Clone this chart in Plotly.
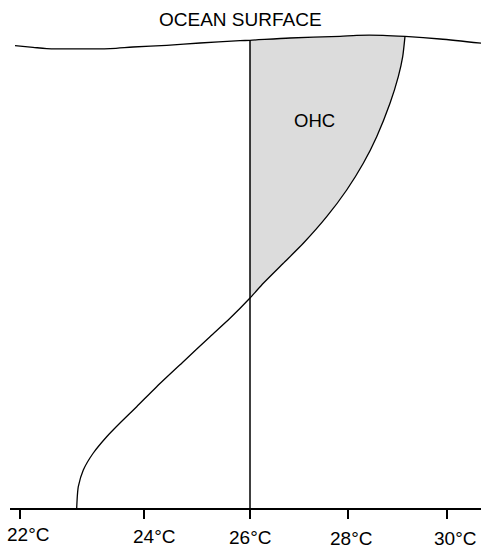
import plotly.graph_objects as go

# Temperature profile (schematic position units: x across, y = depth downward)
profile_x = [76.7, 77.4, 78.3, 83.3, 93.3, 106.7, 120.0, 136.7, 156.7, 183.3, 210.0, 230.0,
             250.0, 263.3, 283.3, 303.3, 326.7, 346.7, 363.3, 376.7, 390.0, 398.3, 402.7, 405.0]
profile_y = [508.0, 495.0, 486.7, 470.0, 453.0, 436.7, 423.0, 406.7, 386.7, 361.7, 336.7, 318.3,
             298.0, 283.3, 263.3, 243.3, 216.7, 190.0, 163.3, 136.7, 103.3, 76.7, 56.7, 36.4]

# Ocean surface line
surface_x = [15.0, 33.0, 46.7, 110.0, 133.0, 166.7, 200.0, 240.0, 250.0, 290.0, 340.0, 356.7,
             383.0, 405.0, 440.0, 481.0]
surface_y = [45.7, 47.3, 48.6, 48.6, 47.0, 45.3, 43.0, 40.7, 40.3, 38.0, 36.3, 35.3,
             35.3, 36.4, 39.0, 43.2]

# 26 degC threshold isotherm position
threshold_x = 250.0
threshold_top = 40.3
bottom_y = 508.0

# Temperature axis
tick_pos = [20, 144, 250, 348, 447]
tick_labels = ["22°C", "24°C", "26°C", "28°C", "30°C"]
label_x = [28, 153.5, 249.5, 350.5, 455]
label_y = [534.0, 536.0, 537.5, 538.0, 538.0]

FONT = "Arial, Liberation Sans, sans-serif"
PLOT_H = 508.0


def to_paper(py):
    return (PLOT_H - py) / PLOT_H


fig = go.Figure()

# Shaded OHC region: curve above 26 degC line, then surface back to the line
fill_x, fill_y = [], []
for x, y in zip(profile_x, profile_y):
    if x >= threshold_x:
        fill_x.append(x); fill_y.append(y)
surf_seg = [(x, y) for x, y in zip(surface_x, surface_y) if threshold_x <= x <= profile_x[-1]]
for x, y in reversed(surf_seg):
    fill_x.append(x); fill_y.append(y)
fig.add_trace(go.Scatter(x=fill_x, y=fill_y, mode="lines", fill="toself",
                         fillcolor="#dcdcdc", line=dict(width=0), hoverinfo="skip"))

# Vertical 26 degC line
fig.add_trace(go.Scatter(x=[threshold_x, threshold_x], y=[threshold_top, bottom_y], mode="lines",
                         line=dict(color="black", width=1.5), hoverinfo="skip"))

# Temperature profile curve
fig.add_trace(go.Scatter(x=profile_x, y=profile_y, mode="lines",
                         line=dict(color="black", width=1.3, shape="spline", smoothing=0.6),
                         hoverinfo="skip"))

# Ocean surface
fig.add_trace(go.Scatter(x=surface_x, y=surface_y, mode="lines",
                         line=dict(color="black", width=1.3, shape="spline", smoothing=0.8),
                         hoverinfo="skip", cliponaxis=False))

annotations = [dict(x=240, y=to_paper(19.5), xref="x", yref="paper", text="OCEAN SURFACE",
                    showarrow=False, font=dict(family=FONT, size=19, color="black"),
                    xanchor="center", yanchor="middle", borderpad=0),
               dict(x=314.5, y=to_paper(120), xref="x", yref="paper", text="OHC",
                    showarrow=False, font=dict(family=FONT, size=18.5, color="black"),
                    xanchor="center", yanchor="middle", borderpad=0)]
for lx, ly, t in zip(label_x, label_y, tick_labels):
    annotations.append(dict(x=lx, y=to_paper(ly), xref="x", yref="paper", text=t,
                            showarrow=False, font=dict(family=FONT, size=19, color="black"),
                            xanchor="center", yanchor="middle", borderpad=0))

fig.update_layout(
    width=481, height=548,
    margin=dict(l=10, r=0, t=0, b=40, pad=0),
    paper_bgcolor="white", plot_bgcolor="white",
    showlegend=False,
    annotations=annotations,
    xaxis=dict(range=[10, 481], showgrid=False, zeroline=False, showline=True,
               linecolor="black", linewidth=1.5, ticks="outside", ticklen=9,
               tickwidth=1.5, tickcolor="black", tickvals=tick_pos,
               showticklabels=False, fixedrange=True),
    yaxis=dict(range=[508, 0], showgrid=False, zeroline=False, showline=False,
               showticklabels=False, ticks="", fixedrange=True),
)

fig.write_html("out.html")
